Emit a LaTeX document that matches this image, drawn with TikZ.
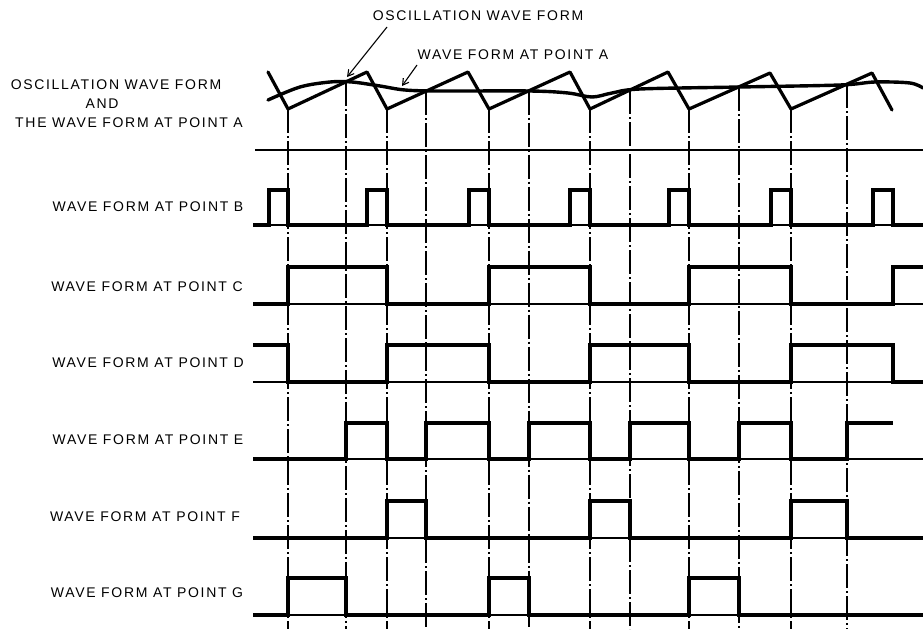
\documentclass[tikz,border=0pt]{standalone}
\usepackage{fontspec}
\setmainfont{Liberation Sans}
\newfontfamily\labfont[LetterSpace=12]{Liberation Sans}
\usetikzlibrary{arrows.meta}
\begin{document}
\begin{tikzpicture}[x=1pt,y=-1pt,
  lab/.style={font=\labfont\fontsize{14}{16}\selectfont, inner sep=0pt, anchor=center},
  sig/.style={line width=3.2pt, line join=miter, line cap=butt},
  base/.style={line width=1.3pt},
  guide/.style={line width=1.2pt, dash pattern=on 24pt off 3pt on 2pt off 3pt},
  lead/.style={line width=1.1pt, -{Straight Barb[length=6pt,width=7pt]}}]
\useasboundingbox (0,0) rectangle (923,629);
% left labels
\node[lab] (la1) at (116,85) {OSCILLATION WAVE FORM};
\node[lab] (la2) at (102,104) {AND};
\node[lab] (la3) at (129,123) {THE WAVE FORM AT POINT A};
\node[lab] (lb) at (148,207) {WAVE FORM AT POINT B};
\node[lab] (lc) at (147,287) {WAVE FORM AT POINT C};
\node[lab] (ld) at (148,363) {WAVE FORM AT POINT D};
\node[lab] (le) at (148,440) {WAVE FORM AT POINT E};
\node[lab] (lf) at (145,517) {WAVE FORM AT POINT F};
\node[lab] (lg) at (147,593) {WAVE FORM AT POINT G};
% top labels
\node[lab] (tosc) at (478,16) {OSCILLATION WAVE FORM};
\node[lab] (ta) at (513,55) {WAVE FORM AT POINT A};
\coordinate (posc) at (347,77);
\coordinate (pa) at (402,86);
\draw[lead] (387,27) -- (posc);
\draw[lead] (417,65) -- (pa);
% guide lines
\foreach \x in {288,387,489,590,689,791} \draw[guide] (\x,109) -- (\x,629);
\foreach \x/\y in {346/81.8,426/91.2,529/90.7,630/90,739/86.8,847/84.1} \draw[guide] (\x,\y) -- (\x,629);
% separator and baselines
\draw[base] (255,150) -- (923,150);
\foreach \y in {225,304,382,459,538,615} \draw[base] (253,\y) -- (923,\y);
% wave at point A
\draw[line width=3.4pt, line cap=round] plot[smooth, tension=0.55] coordinates {(268,100) (300,87) (330,82) (352,82) (380,86) (405,90) (440,91) (530,91) (568,93) (592,97) (612,93) (640,89) (740,87) (840,85) (875,82) (910,83) (923,88)};
% oscillation sawtooth
\draw[sig, line join=round, line cap=round] (268,72) -- (288,109) -- (367,72) -- (387,109) -- (468,72) -- (489,109) -- (570,72) -- (590,109) -- (668,72) -- (689,109) -- (770,73) -- (791,109) -- (872,73) -- (892,110);
% B
\draw[sig] (253,225) -| (269,190) -| (288,225) -| (367,190) -| (387,225) -| (469,190) -| (489,225) -| (570,190) -| (590,225) -| (669,190) -| (689,225) -| (771,190) -| (791,225) -| (873,190) -| (893,225) -- (923,225);
% C
\draw[sig] (253,304) -| (288,267) -| (387,304) -| (489,267) -| (590,304) -| (689,267) -| (791,304) -| (893,267) -- (923,267);
% D
\draw[sig] (253,345) -| (288,382) -| (387,345) -| (489,382) -| (590,345) -| (689,382) -| (791,345) -| (893,382) -- (923,382);
% E
\draw[sig] (253,459) -| (346,423) -| (387,459) -| (426,423) -| (489,459) -| (529,423) -| (590,459) -| (630,423) -| (689,459) -| (739,423) -| (791,459) -| (847,423) -- (893,423);
% F
\draw[sig] (253,538) -| (387,501) -| (426,538) -| (590,501) -| (630,538) -| (791,501) -| (847,538) -- (923,538);
% G
\draw[sig] (253,615) -| (288,578) -| (346,615) -| (489,578) -| (529,615) -| (689,578) -| (739,615) -- (923,615);
\end{tikzpicture}
\end{document}
